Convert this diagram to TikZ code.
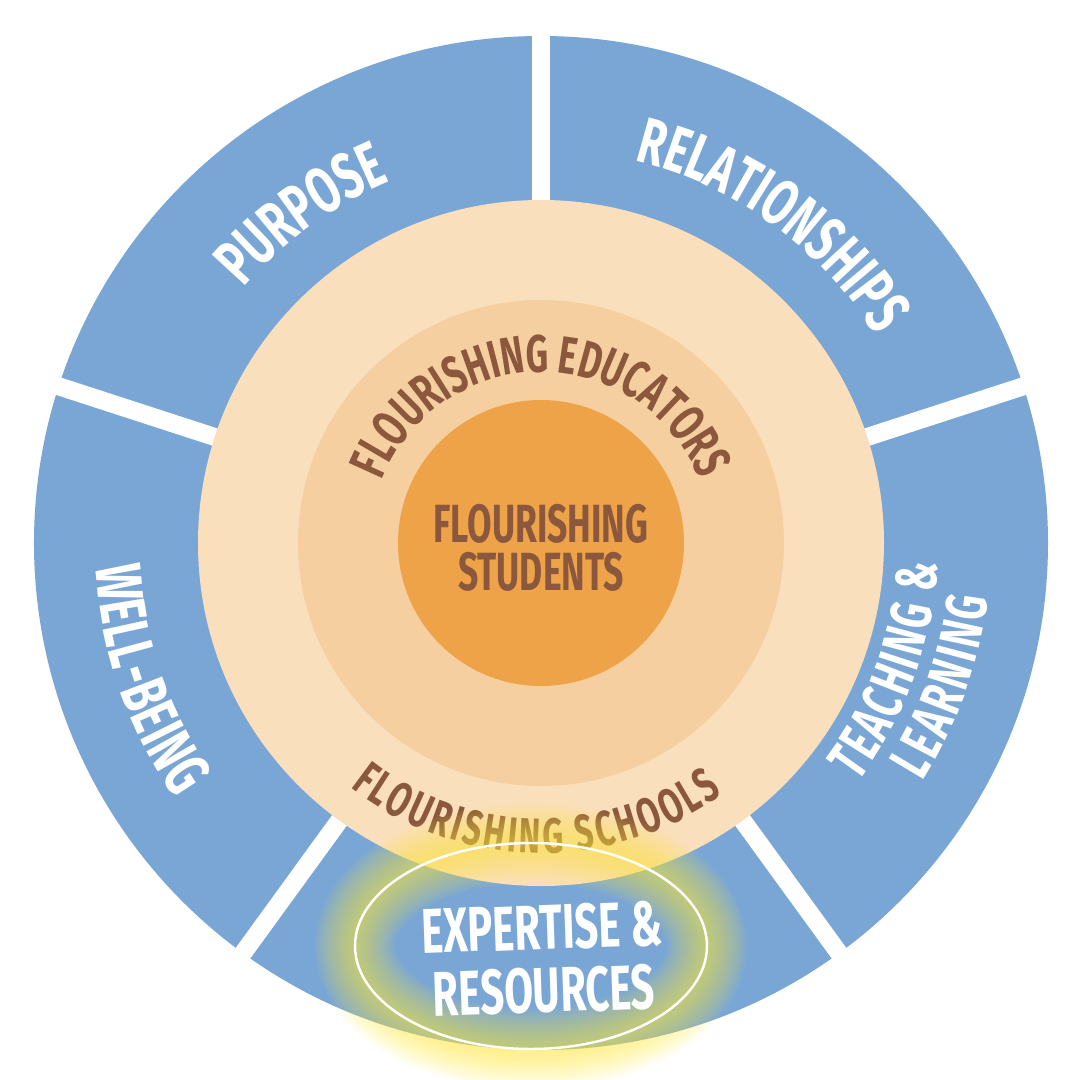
\documentclass[tikz,border=0pt]{standalone}
\usepackage{fontspec}
\usetikzlibrary{decorations.text}
\newfontfamily\wheelfont{Fira Sans}[FakeStretch=0.66]
\newcommand\bluefont{\wheelfont\bfseries\fontsize{18.5}{20}\selectfont}
\newcommand\tealfont{\wheelfont\bfseries\fontsize{16.5}{18}\selectfont}
\newcommand\educfont{\wheelfont\bfseries\fontsize{15}{16}\selectfont}
\newcommand\schoolfont{\wheelfont\bfseries\fontsize{14}{15}\selectfont}
\definecolor{ringblue}{RGB}{122,166,214}
\definecolor{schoolpeach}{RGB}{250,223,189}
\definecolor{educpeach}{RGB}{245,207,159}
\definecolor{studorange}{RGB}{238,163,72}
\definecolor{textbrown}{RGB}{139,88,62}
\definecolor{glowyellow}{RGB}{255,236,60}
\begin{document}
\begin{tikzpicture}[
gap/.style={white, line width=0.18cm},
bluelabel/.style={decorate, decoration={text along path, text align=center,
  text color=white, text={|\bluefont|#1}}},
sidelabel/.style={decorate, decoration={text along path, text align=fit to path,
  text color=white, text={|#1}}},
brownlabel/.style={decorate, decoration={text along path, text align=center,
  text color=textbrown, text={|\educfont|#1}}},
glow/.style={glowyellow, opacity=0.05}]
\useasboundingbox (-5.41,-5.37) rectangle (5.39,5.43);
\clip (-5.41,-5.37) rectangle (5.39,5.43);
\fill[white] (-5.41,-5.37) rectangle (5.39,5.43);
% outer ring, five segments
\fill[ringblue] (0,0) circle[radius=5.07];
\foreach \a in {18,90,...,306}
  \draw[gap] (0,0) -- (\a:5.2);
% inner discs
\fill[schoolpeach] (0,0) circle[radius=3.43];
\fill[educpeach] (0,0) circle[radius=2.43];
\fill[studorange] (0,0) circle[radius=1.43];
%
\path[bluelabel=PURPOSE] (156:3.92) arc[start angle=156, end angle=96, radius=3.92];
\path[bluelabel=RELATIONSHIPS] (84:3.94) arc[start angle=84, end angle=24, radius=3.94];
\path[sidelabel={\bluefont|WELL-BEING}] (183:4.46) arc[start angle=183, end angle=215, radius=4.46];
\path[sidelabel={\tealfont|TEACHING {\&}}] (323:3.97) arc[start angle=323, end angle=357, radius=3.97];
\path[sidelabel={\tealfont|LEARNING}] (328:4.50) arc[start angle=328, end angle=353, radius=4.50];
%
\path[brownlabel={FLOURISHING EDUCATORS}] (180:1.71) arc[start angle=180, end angle=0, radius=1.71];
\path[decorate, decoration={text along path, text align=fit to path,
  text color=textbrown, text={|\schoolfont|FLOURISHING SCHOOLS}}]
  (232:3.10) arc[start angle=232, end angle=306, radius=3.10];
\node[text=textbrown, align=center, inner sep=0pt,
  font=\wheelfont\bfseries\fontsize{15.3}{13.7}\selectfont] (students) at (0,-0.05)
  {FLOURISHING\\STUDENTS};
% highlight round the bottom segment
\foreach \w in {0.05,0.1,...,0.85}
  \draw[glow, line width=\w cm] (-0.10,-4.03) ellipse[x radius=1.76, y radius=1.03];
\draw[white, line width=0.7pt] (-0.10,-4.03) ellipse[x radius=1.76, y radius=1.03];
\node[text=white, align=center, inner sep=0pt, rotate=2,
  font=\wheelfont\bfseries\fontsize{18}{18}\selectfont] (expertise) at (0.02,-4.16)
  {EXPERTISE \&\\RESOURCES};
\end{tikzpicture}
\end{document}
